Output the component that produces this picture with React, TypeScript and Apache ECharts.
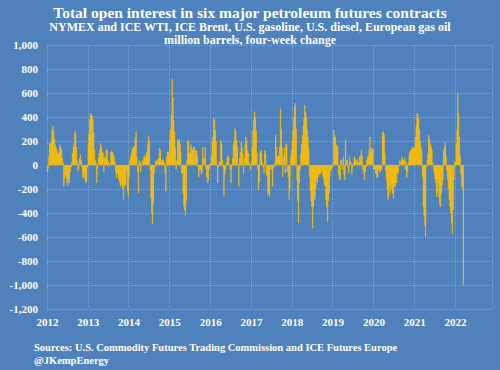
import React, { useEffect, useRef } from 'react';
import * as echarts from 'echarts';

// Four-week change in total open interest, million barrels (weekly)
const y2012 = [-60, -30, 80, 180, 180, 200, 300, 330, 280, 220, 170, 150, 130, 100, 90, 110, 170, 150, 130, 60, 20, -180, -120, -90, -100, -150, -170, -120, -150, -60, -20, 20, 100, 150, 180, 280, 260, 150, 30, -50, -30, 60, 90, 40, -20, -100, -110, -80, -120, -150, -140, -20];
const y2013 = [170, 260, 380, 430, 420, 410, 380, 270, 130, 40, 20, -150, -30, 60, 100, 130, 180, 150, 110, 100, -60, 70, 60, 125, 130, 40, 30, -15, 20, 110, 120, 110, 90, 70, 30, -60, -110, -70, -80, -120, -140, -180, -150, -170, -200, -290, -180, -170, -160, -40, -220, -265];
const y2014 = [-100, 40, 70, 90, 140, 130, 150, 160, 230, 280, 70, -60, -235, 40, 30, -55, 10, 40, 30, 70, 80, 60, 100, 110, 170, 240, 200, -40, -280, -400, -490, -330, -70, -20, 30, 40, 20, 50, 60, 140, 130, 40, 20, 50, 40, 20, -70, -220, 70, 110, 110, 80];
const y2015 = [210, 300, 420, 715, 560, 375, 280, 150, -40, 40, 210, 200, 220, 180, 110, -70, -70, -235, -350, -380, -420, -300, 40, 210, 200, 100, 100, 170, 140, 125, 150, 150, 10, 125, 120, 80, -20, -100, -40, -40, -80, -60, 150, 55, 60, 150, -30, -100, -150, -130, -40, -10];
const y2016 = [20, 70, 190, 235, 390, 380, 290, 200, 0, -150, -20, 30, 20, 210, 180, 40, -20, -260, -80, -40, 20, 55, 80, 70, 10, -40, -150, -20, 60, 170, 200, 305, 280, 210, 150, 10, -180, 60, 110, 195, 150, 100, -70, 60, 170, 235, 200, 125, 100, 20, -10, -40];
const y2017 = [30, 150, 290, 380, 445, 400, 290, 100, -40, -210, -150, 110, 125, 100, 20, -20, -70, 125, 100, -80, -100, -250, -230, -265, -40, -10, -40, -180, -30, -15, 20, 250, 150, 70, 70, 80, 150, 470, 300, 150, -100, 80, 140, -70, 180, 170, -60, -100, -290, -200, 70, 125];
const y2018 = [200, 290, 400, 485, 515, 300, -125, -300, -485, -150, -40, 100, 180, 250, 330, 390, 500, 440, 400, 300, 235, 140, -100, -210, -300, -350, -530, -350, -265, -290, -200, -125, -150, -100, -70, -80, -80, -60, -40, -100, -125, -165, -180, -290, -350, -470, -300, -235, -100, -50, -40, -20];
const y2019 = [0, 290, 250, 230, 170, 160, 150, -80, -120, -125, 40, 40, -40, 70, -80, -125, 210, 40, 40, -20, -70, 70, 30, 20, -80, -20, 20, 70, 50, 40, 30, 50, 20, 20, 70, 80, 130, 80, -40, -70, -125, -60, -20, 40, 70, 80, 130, 235, 110, 140, 140, 125];
const y2020 = [-40, -40, -70, -70, -110, -100, -30, -60, -60, -40, -40, 265, 280, 260, 100, -50, -125, -200, -290, -260, -165, -235, -200, -150, -240, -280, -180, -180, -150, -150, -70, -70, -10, 40, 20, 40, 70, 40, 40, 55, -40, 30, -110, -60, 20, 100, 110, 125, 130, 150, 150, 140];
const y2021 = [140, 235, 330, 430, 420, 390, 300, 200, 150, 125, -100, -350, -430, -500, -600, -20, 40, 100, 250, 220, 180, 150, 130, 20, -40, -70, -120, -150, -265, -230, -150, -270, -330, -350, -240, -170, -125, 125, 150, 195, 70, -50, -125, -200, -290, -350, -400, -485, -570, -375, -120, 20];
const y2022 = [30, 180, 300, 600, 430, 235, 70, -80, -180, -200, -1000];

const years = [2012, 2013, 2014, 2015, 2016, 2017, 2018, 2019, 2020, 2021, 2022];
const yearValues = [y2012, y2013, y2014, y2015, y2016, y2017, y2018, y2019, y2020, y2021, y2022];
const weeksPerYear = 52;
const weeksShownIn2022 = 47; // axis extends past last observation

const titleText = 'Total open interest in six major petroleum futures contracts';
const subtitle1 = 'NYMEX and ICE WTI, ICE Brent, U.S. gasoline, U.S. diesel, European gas oil';
const subtitle2 = 'million barrels, four-week change';
const sourceText = 'Sources: U.S. Commodity Futures Trading Commission and ICE Futures Europe';
const handleText = '@JKempEnergy';

const categories: string[] = [];
const values: (number | null)[] = [];
years.forEach((yr, k) => {
  const n = yr === 2022 ? weeksShownIn2022 : weeksPerYear;
  for (let i = 0; i < n; i++) {
    categories.push(`${yr}-W${i + 1}`);
    const v = yearValues[k][i];
    values.push(v === undefined ? null : v);
  }
});

const FONT = '"Liberation Serif", "Times New Roman", serif';
const BG = '#4F81BD';
const GRID = 'rgba(255,255,255,0.28)';

function fmt(v: number): string {
  const s = Math.abs(v).toString().replace(/\B(?=(\d{3})+(?!\d))/g, ',');
  return (v < 0 ? '-' : '') + s;
}

export default function App() {
  const ref = useRef<HTMLDivElement>(null);
  useEffect(() => {
    if (!ref.current) return;
    const chart = echarts.init(ref.current, null, { renderer: 'svg' });
    const isYearStart = (_i: number, v: string) => v.endsWith('-W1');
    chart.setOption({
      animation: false,
      backgroundColor: BG,
      title: [
        { text: titleText, left: 'center', top: 4, padding: 0, textStyle: { color: '#fff', fontFamily: FONT, fontSize: 15.5, fontWeight: 'bold' } },
        { text: subtitle1, left: 'center', top: 21, padding: 0, textStyle: { color: '#fff', fontFamily: FONT, fontSize: 12, fontWeight: 'bold' } },
        { text: subtitle2, left: 'center', top: 34, padding: 0, textStyle: { color: '#fff', fontFamily: FONT, fontSize: 12, fontWeight: 'bold' } },
        { text: sourceText, left: 34, top: 342, padding: 0, textStyle: { color: '#fff', fontFamily: FONT, fontSize: 10.5, fontWeight: 'bold' } },
        { text: handleText, left: 34, top: 355, padding: 0, textStyle: { color: '#fff', fontFamily: FONT, fontSize: 10.5, fontWeight: 'bold' } },
      ],
      grid: { left: 47, right: 8, top: 45, bottom: 61, containLabel: false },
      xAxis: {
        type: 'category',
        data: categories,
        boundaryGap: true,
        axisLine: { show: false },
        axisTick: { show: false },
        axisLabel: {
          interval: isYearStart,
          formatter: (v: string) => v.slice(0, 4),
          color: '#fff',
          fontFamily: FONT,
          fontSize: 11,
          fontWeight: 'bold',
          margin: 7,
        },
        splitLine: { show: true, interval: isYearStart, lineStyle: { color: GRID, type: 'dotted', width: 1 } },
      },
      yAxis: {
        type: 'value',
        min: -1200,
        max: 1000,
        interval: 200,
        axisLine: { show: false },
        axisTick: { show: false },
        axisLabel: { formatter: fmt, color: '#fff', fontFamily: FONT, fontSize: 11, fontWeight: 'bold', margin: 9 },
        splitLine: { show: true, lineStyle: { color: GRID, type: 'dotted', width: 1 } },
      },
      series: [
        {
          type: 'bar',
          data: values,
          barCategoryGap: '0%',
          itemStyle: { color: '#FFC000', borderColor: '#FFC000', borderWidth: 0.5 },
        },
      ],
    });
    return () => chart.dispose();
  }, []);
  return <div ref={ref} style={{ position: 'fixed', left: 0, top: 0, width: 500, height: 370 }} />;
}
